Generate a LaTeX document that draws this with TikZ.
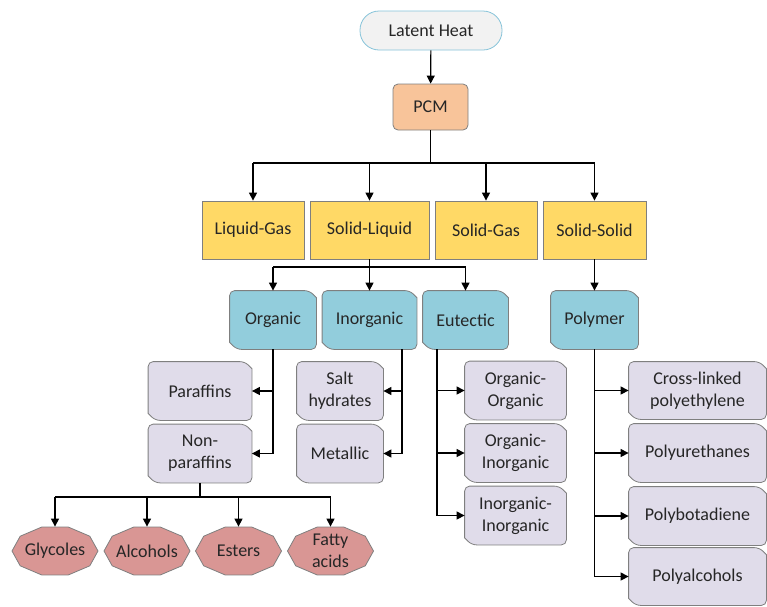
\documentclass[tikz,border=0pt]{standalone}
\usepackage{fontspec}
\setmainfont{Carlito}
\usetikzlibrary{arrows.meta,calc,backgrounds}
\definecolor{latfill}{HTML}{F2F2F2}
\definecolor{latborder}{HTML}{86C3D9}
\definecolor{peach}{HTML}{F8C49A}
\definecolor{yellowf}{HTML}{FFD966}
\definecolor{tealf}{HTML}{92CDDC}
\definecolor{lavf}{HTML}{E0DCEA}
\definecolor{salmonf}{HTML}{D99694}
\definecolor{bord}{HTML}{7F7F7F}
\definecolor{txt}{HTML}{262626}
\begin{document}
\begin{tikzpicture}[x=1pt,y=-1pt,
  base/.style={draw=bord, line width=0.8pt, align=center, inner sep=0pt, text=txt,
    font=\fontsize{18}{22}\selectfont},
  lat/.style={base, draw=latborder, fill=latfill, rounded corners=19pt, minimum width=142pt, minimum height=39pt},
  pcmbox/.style={base, fill=peach, rounded corners=5pt, minimum width=75pt, minimum height=46pt},
  phase/.style={base, fill=yellowf, minimum height=58pt},
  snip/.style={base, draw=none, minimum height=58pt},
  snipshape/.style={draw=bord, line width=0.8pt},
  deca/.style={base, draw=none, minimum width=86pt, minimum height=48pt},
  decashape/.style={draw=bord, line width=0.8pt, fill=salmonf},
  conn/.style={line width=1.2pt, black},
  arr/.style={conn, -{Triangle[length=8pt,width=8pt]}}
]
\useasboundingbox (0,0) rectangle (767,606);

% top
\node[lat] (lh) at (431,30.5) {Latent Heat};
\node[pcmbox] (pcm) at (430.5,107) {PCM};

% phases
\node[phase, minimum width=102pt] (lg) at (253,230) {Liquid-Gas};
\node[phase, minimum width=119pt] (sl) at (369.5,230) {Solid-Liquid};
\node[phase, minimum width=102pt] (sg) at (486,230) {Solid-Gas};
\node[phase, minimum width=103pt] (ss) at (594.5,230) {Solid-Solid};

% classes
\node[snip, minimum width=86pt] (org) at (273,320) {Organic};
\node[snip, minimum width=94pt] (ino) at (369.5,320) {Inorganic};
\node[snip, minimum width=85pt] (eut) at (465.5,320) {Eutectic};
\node[snip, minimum width=87pt] (pol) at (594.5,320) {Polymer};

% organic
\node[snip, minimum width=103pt] (par) at (200,391) {Paraffins};
\node[snip, minimum width=103pt] (non) at (200,453.5) {Non-\\paraffins};
% inorganic
\node[snip, minimum width=86pt] (salt) at (340,391) {Salt\\hydrates};
\node[snip, minimum width=86pt] (met) at (340,453.5) {Metallic};
% eutectic
\node[snip, minimum width=101pt] (oo) at (515.5,390.5) {Organic-\\Organic};
\node[snip, minimum width=101pt] (oi) at (515.5,453) {Organic-\\Inorganic};
\node[snip, minimum width=101pt] (ii) at (515.5,515.5) {Inorganic-\\Inorganic};
% polymer
\node[snip, minimum width=137pt, minimum height=57pt] (xl) at (697.5,390.5) {Cross-linked\\polyethylene};
\node[snip, minimum width=137pt] (pu) at (697.5,453) {Polyurethanes};
\node[snip, minimum width=137pt] (pb) at (697.5,516) {Polybotadiene};
\node[snip, minimum width=137pt, minimum height=57pt] (pa) at (697.5,576.5) {Polyalcohols};

% non-paraffins children
\node[deca] (gly) at (55,551) {Glycoles};
\node[deca] (alc) at (147,551) {Alcohols};
\node[deca] (est) at (238.5,551) {Esters};
\node[deca] (fat) at (330.5,551) {Fatty\\acids};

\begin{scope}[on background layer]
\foreach \n/\c in {org/tealf,ino/tealf,eut/tealf,pol/tealf,
    par/lavf,non/lavf,salt/lavf,met/lavf,oo/lavf,oi/lavf,ii/lavf,xl/lavf,pu/lavf,pb/lavf,pa/lavf}{
  \path[snipshape, fill=\c] ($(\n.north west)+(0,7)$)
    [rounded corners=5pt] |- ($(\n.north east)+(-7,0)$)
    [sharp corners] -- ($(\n.north east)+(0,7)$)
    [rounded corners=5pt] |- ($(\n.south west)+(7,0)$)
    [sharp corners] -- ($(\n.south west)+(0,-7)$) -- cycle;
}
\foreach \n in {gly,alc,est,fat}{
  \path[decashape, shift={(\n.center)}] (0:43 and 25.2)
    \foreach \a in {36,72,...,324}{ -- (\a:43 and 25.2)} -- cycle;
}
\end{scope}

% connectors
\draw[arr] (lh) -- (pcm);
\coordinate (bus1) at (430.5,163);
\draw[conn] (pcm.south) -- (pcm.south |- bus1);
\draw[conn] (lg.north |- bus1) -- (ss.north |- bus1);
\foreach \n in {lg,sl,sg,ss}{\draw[arr] (\n.north |- bus1) -- (\n.north);}

\coordinate (bus2) at (369.5,267);
\draw[conn] (sl.south) -- (sl.south |- bus2);
\draw[conn] (org.north |- bus2) -- (eut.north |- bus2);
\foreach \n in {org,ino,eut}{\draw[arr] (\n.north |- bus2) -- (\n.north);}
\draw[arr] (ss) -- (pol);

% organic trunk
\draw[conn] (org.south) -- (org.south |- non.east);
\draw[arr] (org.south |- par.east) -- (par.east);
\draw[arr] (org.south |- non.east) -- (non.east);

% inorganic trunk
\coordinate (ti) at ($(ino.south)+(32.5,0)$);
\draw[conn] (ti) -- (ti |- met.east);
\draw[arr] (ti |- salt.east) -- (salt.east);
\draw[arr] (ti |- met.east) -- (met.east);

% eutectic trunk
\coordinate (te) at ($(eut.south)+(-28.5,0)$);
\draw[conn] (te) -- (te |- ii.west);
\foreach \n in {oo,oi,ii}{\draw[arr] (te |- \n.west) -- (\n.west);}

% polymer trunk
\draw[conn] (pol.south) -- (pol.south |- pa.west);
\foreach \n in {xl,pu,pb,pa}{\draw[arr] (pol.south |- \n.west) -- (\n.west);}

% non-paraffins bus
\coordinate (bus3) at (200,497);
\draw[conn] (non.south) -- (non.south |- bus3);
\draw[conn] (gly.north |- bus3) -- (fat.north |- bus3);
\foreach \n in {gly,alc,est,fat}{\draw[arr] (\n.north |- bus3) -- (\n.north);}
\end{tikzpicture}
\end{document}
